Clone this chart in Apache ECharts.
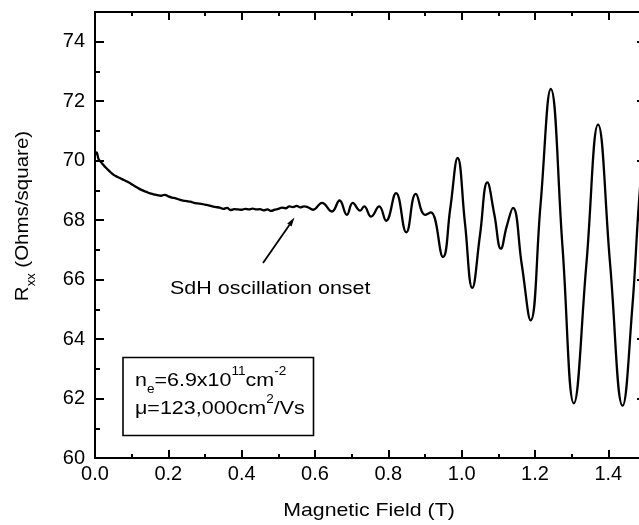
<!DOCTYPE html>
<html><head><meta charset="utf-8">
<script src="https://cdn.jsdelivr.net/npm/echarts@6/dist/echarts.min.js"></script>
<style>html,body{margin:0;padding:0;overflow:hidden;background:#fff}#c{width:650px;height:525px}</style>
</head><body><div id="c"></div>
<script>
// Magnetic field (T)
const fieldT = [
  0.000,0.004,0.010,0.020,0.030,0.040,0.050,0.060,0.070,0.080,0.090,
  0.100,0.110,0.120,0.130,0.140,0.150,0.160,0.170,0.180,0.190,
  0.200,0.210,0.220,0.230,0.240,0.250,0.260,0.270,0.280,0.290,
  0.300,0.310,0.320,0.330,0.340,0.350,0.360,0.370,0.380,0.390,
  0.400,0.410,0.420,0.430,0.440,0.450,0.460,0.470,0.480,0.490,
  0.500,0.510,0.520,0.530,0.540,0.550,0.560,0.570,0.580,
  0.595,0.619,0.646,0.667,0.687,0.703,0.723,0.734,0.753,0.775,0.794,
  0.821,0.849,0.875,0.900,0.916,0.949,0.969,0.989,1.009,1.029,1.050,
  1.070,1.089,1.107,1.123,1.140,1.164,1.188,1.215,1.243,1.275,1.306,
  1.340,1.372,1.405,1.439,1.465,1.484,1.500
];
// Rxx (Ohms/square)
const rxx = [
  70.20,70.28,70.05,69.90,69.76,69.64,69.53,69.46,69.40,69.34,69.28,
  69.21,69.13,69.06,69.00,68.95,68.90,68.87,68.84,68.82,68.85,
  68.80,68.76,68.73,68.69,68.66,68.64,68.62,68.58,68.56,68.55,
  68.52,68.50,68.46,68.44,68.42,68.38,68.41,68.34,68.37,68.36,
  68.35,68.38,68.36,68.39,68.36,68.37,68.33,68.36,68.31,68.35,
  68.38,68.42,68.40,68.46,68.44,68.48,68.43,68.46,68.44,
  68.35,68.58,68.29,68.66,68.18,68.58,68.32,68.46,68.12,68.46,67.98,
  68.91,67.59,68.88,68.18,68.26,66.76,68.40,70.09,67.90,65.72,67.50,
  69.27,68.20,67.04,67.80,68.41,66.50,64.63,68.50,72.41,67.10,61.84,
  66.50,71.21,66.50,61.76,65.00,68.69,70.90
];
const xTickLabels = ['0.0','0.2','0.4','0.6','0.8','1.0','1.2','1.4'];
const yTickLabels = ['60','62','64','66','68','70','72','74'];

const FONT = '"Liberation Sans", Arial, Helvetica, sans-serif';
const chart = echarts.init(document.getElementById('c'), null, {renderer:'canvas'});
const lineCol = '#000';
const axLine = {show:true, onZero:false, lineStyle:{color:lineCol, width:2}};
const noSplit = {show:false};
function xAxisDef(pos, interval, tickLen, labels){
  return {type:'value', position:pos, min:0, max:1.5, interval:interval,
    axisLine:axLine, splitLine:noSplit,
    axisTick:{show:true, inside:true, length:tickLen, lineStyle:{color:lineCol, width:2}},
    axisLabel: labels ? {show:true, margin:6, fontSize:20, color:'#000', fontFamily:FONT,
      formatter:function(v){const i=Math.round(v/0.2);return (Math.abs(v-i*0.2)<1e-6 && i<xTickLabels.length)?xTickLabels[i]:'';}} : {show:false}
  };
}
function yAxisDef(pos, interval, tickLen, labels){
  return {type:'value', position:pos, min:60, max:75, interval:interval,
    axisLine:axLine, splitLine:noSplit,
    axisTick:{show:true, inside:true, length:tickLen, lineStyle:{color:lineCol, width:2}},
    axisLabel: labels ? {show:true, margin:10, fontSize:20, color:'#000', fontFamily:FONT,
      formatter:function(v){const i=Math.round((v-60)/2);return (Math.abs(v-60-i*2)<1e-6 && i<yTickLabels.length)?yTickLabels[i]:'';}} : {show:false}
  };
}
const data = fieldT.map((b,i)=>[b, rxx[i]]);

// arrow geometry (annotation)
const tip=[294.5,217.5], tail=[263,263];
const dx=tip[0]-tail[0], dy=tip[1]-tail[1], L=Math.hypot(dx,dy), ux=dx/L, uy=dy/L;
const hb=[tip[0]-9*ux, tip[1]-9*uy];
const head=[[tip[0],tip[1]],[hb[0]-2.6*uy, hb[1]+2.6*ux],[hb[0]+2.6*uy, hb[1]-2.6*ux]];

const mainTxt = {fontSize:19, fontFamily:FONT, color:'#000', lineHeight:30};
const supTxt = {fontSize:12, fontFamily:FONT, color:'#000', lineHeight:12, verticalAlign:'top'};
const subTxt = {fontSize:12, fontFamily:FONT, color:'#000', lineHeight:12, verticalAlign:'bottom'};

chart.setOption({
  animation:false,
  backgroundColor:'#fff',
  grid:{left:95, right:5, top:12, bottom:67, outerBoundsMode:'none', containLabel:false},
  xAxis:[xAxisDef('bottom',0.2,8,true), xAxisDef('bottom',0.1,4,false),
         xAxisDef('top',0.2,8,false), xAxisDef('top',0.1,4,false)],
  yAxis:[yAxisDef('left',2,9,true), yAxisDef('left',1,5,false),
         yAxisDef('right',2,8,false), yAxisDef('right',1,4,false)],
  series:[{type:'line', xAxisIndex:0, yAxisIndex:0, data:data, showSymbol:false, symbol:'none',
    smooth:0.45, lineStyle:{color:'#000', width:2.3}, silent:true}],
  graphic:[
    {type:'text', x:369, y:511, scaleX:1.12, style:{text:'Magnetic Field (T)', font:'19px '+FONT, fill:'#000', align:'center', verticalAlign:'middle'}},
    {type:'text', x:23, y:216, rotation:Math.PI/2, scaleX:1.08,
      style:{text:'{m|R}{s|xx}{m| (Ohms/square)}', align:'center', verticalAlign:'middle',
        rich:{m:mainTxt, s:subTxt}}},
    {type:'text', x:170, y:289, scaleX:1.13, style:{text:'SdH oscillation onset', font:'19px '+FONT, fill:'#000', align:'left', verticalAlign:'middle'}},
    {type:'line', shape:{x1:tail[0], y1:tail[1], x2:hb[0], y2:hb[1]}, style:{stroke:'#000', lineWidth:1.8}},
    {type:'polygon', shape:{points:head}, style:{fill:'#000'}},
    {type:'rect', shape:{x:123, y:357.5, width:190.5, height:78}, style:{fill:'none', stroke:'#000', lineWidth:1.6}},
    {type:'text', x:135, y:381, scaleX:1.13,
      style:{text:'{m|n}{s|e}{m|=6.9x10}{p|11}{m|cm}{p|-2}', align:'left', verticalAlign:'middle',
        rich:{m:mainTxt, s:subTxt, p:supTxt}}},
    {type:'text', x:135, y:409, scaleX:1.13,
      style:{text:'{m|\u03bc=123,000cm}{p|2}{m|/Vs}', align:'left', verticalAlign:'middle',
        rich:{m:mainTxt, p:supTxt}}}
  ]
});
</script>
</body></html>
